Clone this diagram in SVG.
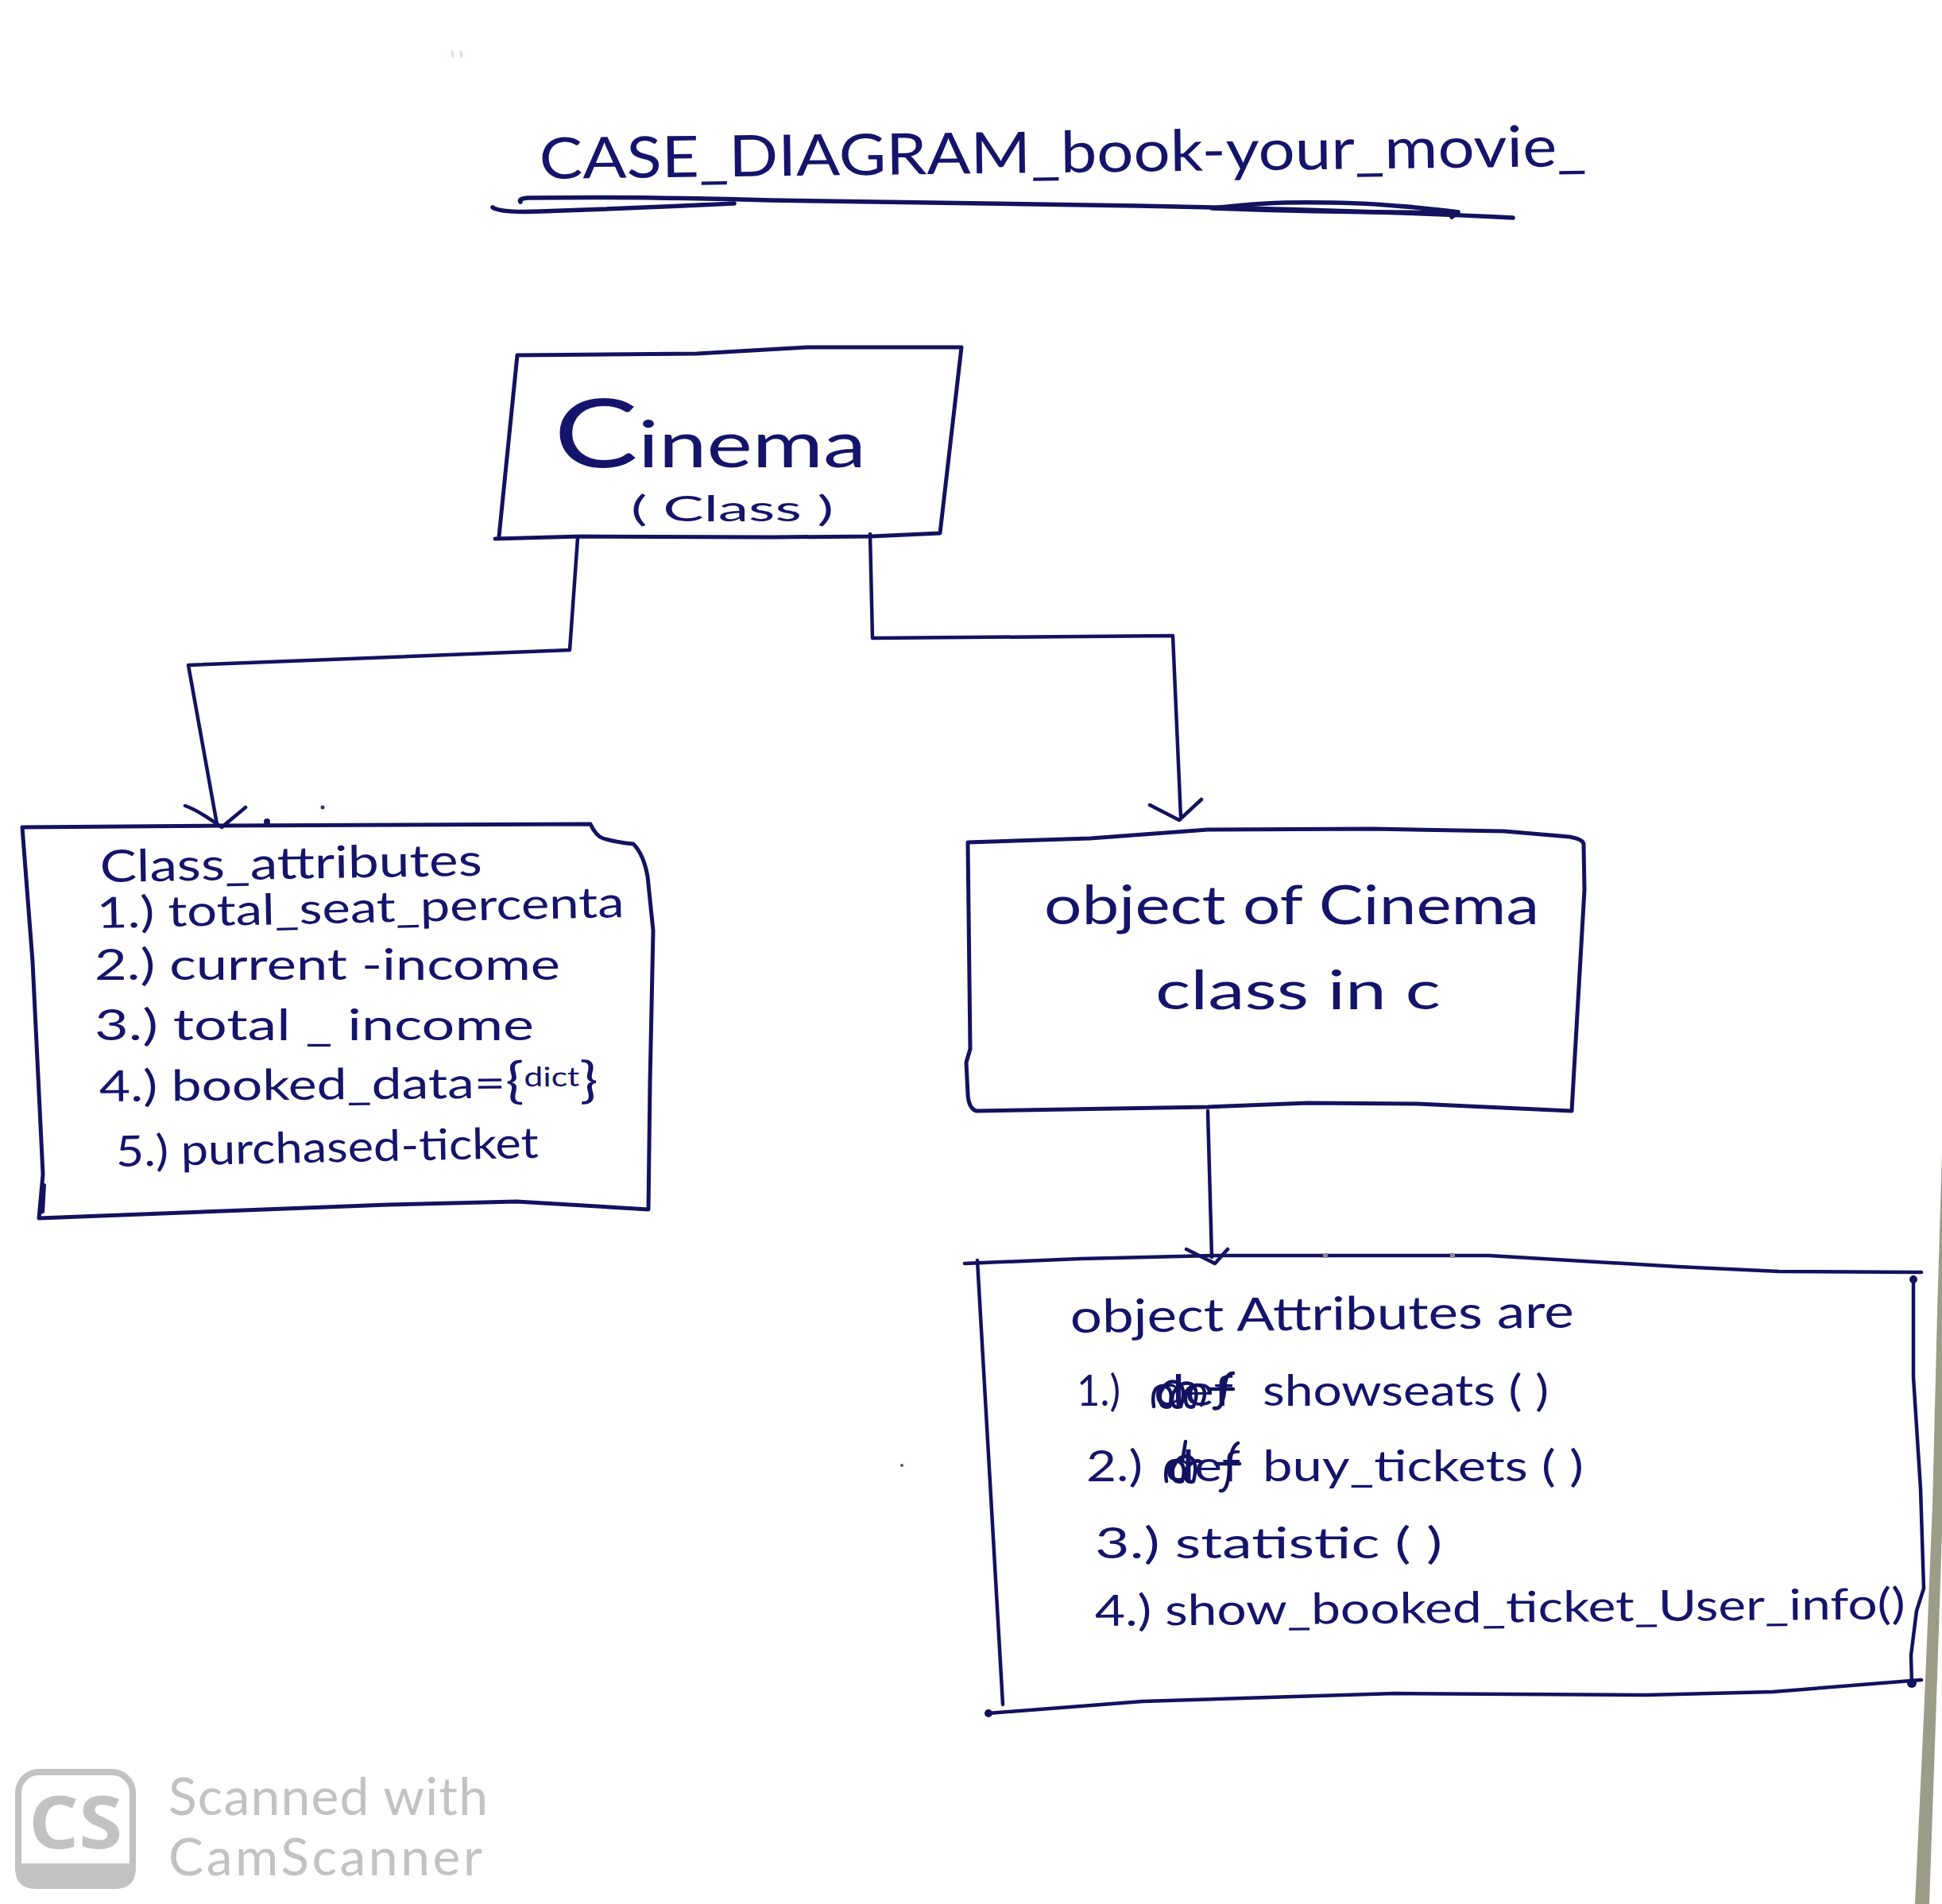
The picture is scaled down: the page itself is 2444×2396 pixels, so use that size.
<svg xmlns="http://www.w3.org/2000/svg" width="2444" height="2396" viewBox="0 0 2444 2396">
<style>
.p{fill:none;stroke:#12125f;stroke-width:4.5;stroke-linecap:round;stroke-linejoin:round}
.h{font-family:"Lato","Liberation Sans",sans-serif;fill:#14146b;font-size:54px}
.w{font-family:"Lato","Liberation Sans",sans-serif;fill:#c2c2c2;font-size:66px}
.d{fill:#12125f}
</style>
<rect width="2444" height="2396" fill="#ffffff"/>
<path d="M2444 1450L2438 1650L2432 1894L2422 2139L2410 2396L2428 2396L2437 2139L2444 1930Z" fill="#9c9d88"/>
<path d="M569 64l1 8M580 64l1 8" stroke="#e8d8dc" stroke-width="3" fill="none"/>
<g id="title">
<text class="h" x="679" y="225" style="font-size:72px" textLength="1318" lengthAdjust="spacingAndGlyphs" transform="rotate(-0.7 679 225)">CASE_DIAGRAM_book-your_movie_</text>
<path class="p" style="stroke-width:5.5" d="M655 254Q652 250 665 249Q800 247 970 252Q1200 256 1432 259Q1700 264 1904 274"/>
<path class="p" style="stroke-width:5.5" d="M620 261Q630 268 680 266Q800 262 924 256M1525 262Q1580 256 1617 255Q1700 254 1756 259Q1800 262 1835 267Q1680 268 1525 262M1835 267l-8 6"/>
</g>
<g id="cinema">
<path class="p" style="stroke-width:5" d="M651 447L877 445L1016 437L1210 437L1183 671L1095 675L970 676L730 675L623 678M628 675L651 447"/>
<text class="h" x="697" y="588" style="font-size:82px" textLength="393" lengthAdjust="spacingAndGlyphs"><tspan style="font-size:120px">C</tspan>inema</text>
<text class="h" x="794" y="656" style="font-size:44px" textLength="255" lengthAdjust="spacingAndGlyphs">( Class )</text>
</g>
<g id="connectors">
<path class="p" d="M727 677L717 818L237 837L273 1037"/>
<path class="p" d="M233 1014Q250 1020 279 1041L309 1016"/>
<path class="p" d="M1095 672L1098 803L1476 800L1486 1029"/>
<path class="p" d="M1447 1013L1484 1032L1512 1006"/>
<path class="p" d="M1520 1398L1525 1582"/>
<path class="p" d="M1493 1572L1529 1590L1545 1572"/>
</g>
<g id="class-attributes">
<path class="p" style="stroke-width:5" d="M28 1041L279 1039L743 1037Q750 1052 759 1055Q775 1060 797 1062Q810 1075 815 1103L822 1171L818 1363L816 1522L650 1512L488 1516L49 1533L54 1478L41 1210L28 1041"/>
<path class="d" d="M48 1530l5-42 5 2-2 36z"/>
<circle class="d" cx="336" cy="1034" r="4"/>
<circle cx="406" cy="1016" r="2.5" fill="#333366"/>
<text class="h" x="126" y="1110" style="font-size:56px" textLength="481" lengthAdjust="spacingAndGlyphs" transform="rotate(-1 126 1110)">Class_attributes</text>
<text class="h" x="122" y="1168" textLength="664" lengthAdjust="spacingAndGlyphs" transform="rotate(-1.2 122 1168)">1.) total_seat_percenta</text>
<text class="h" x="119" y="1233" textLength="586" lengthAdjust="spacingAndGlyphs">2.) current -income</text>
<text class="h" x="119" y="1309" textLength="553" lengthAdjust="spacingAndGlyphs">3.) total _ income</text>
<text class="h" x="125" y="1386" textLength="628" lengthAdjust="spacingAndGlyphs" transform="rotate(-0.5 125 1386)">4.) booked_data=<tspan style="font-size:62px">{</tspan><tspan dy="-14" style="font-size:34px">dict</tspan><tspan dy="14" style="font-size:62px">}</tspan></text>
<text class="h" x="146" y="1468" textLength="532" lengthAdjust="spacingAndGlyphs" transform="rotate(-1.2 146 1468)">5.) purchased-ticket</text>
</g>
<g id="object-of-cinema">
<path class="p" style="stroke-width:5" d="M1218 1060L1372 1055L1520 1044L1728 1043L1893 1046L1975 1053Q1992 1056 1993 1062L1994 1120L1978 1398L1783 1389L1646 1388L1520 1393L1229 1398Q1219 1395 1218 1377L1216 1337L1221 1320L1218 1060"/>
<text class="h" x="1314" y="1163" style="font-size:68px" textLength="623" lengthAdjust="spacingAndGlyphs">object of Cinema</text>
<text class="h" x="1454" y="1270" style="font-size:68px" textLength="359" lengthAdjust="spacingAndGlyphs">class in  c</text>
</g>
<g id="object-attributes">
<path class="p" d="M1214 1590L1359 1584L1529 1580L1874 1580L2112 1594L2239 1600L2418 1601"/>
<path class="p" d="M1230 1586L1262 2145"/>
<path class="p" d="M1244 2156L1438 2141L1755 2131L2072 2133L2231 2129L2418 2114"/>
<path class="p" d="M2408 1607L2408 1733L2417 1873L2421 1999L2412 2027L2405 2083L2406 2121"/>
<circle class="d" cx="1244" cy="2156" r="5"/>
<circle class="d" cx="2408" cy="1610" r="5"/>
<circle class="d" cx="2406" cy="2118" r="6"/>
<rect x="1665" y="1577" width="6" height="6" fill="#8a8a9a"/>
<rect x="1825" y="1577" width="6" height="6" fill="#8a8a9a"/>
<circle cx="1135" cy="1844" r="2" fill="#555577"/>
<text class="h" x="1347" y="1677" style="font-size:58px" textLength="634" lengthAdjust="spacingAndGlyphs" transform="rotate(-0.6 1347 1677)">object Attributes are</text>
<text class="h" x="1355" y="1769" textLength="55" lengthAdjust="spacingAndGlyphs">1.)</text>
<text class="h" x="1452" y="1769" textLength="100" lengthAdjust="spacingAndGlyphs">def</text>
<path class="p" d="M1452 1770q-4-26 12-26q14 2 8 26q-14 4-12-16q8-20 22-14q12 6 4 30q-14 4-10-16q10-18 24-12q10 8 2 28q-12 4-10-18q8-12 20-8q8 8 0 24M1528 1772q12 4 14-32q2-12 10-12M1522 1748h30"/>
<text class="h" x="1589" y="1769" textLength="360" lengthAdjust="spacingAndGlyphs">showseats ( )</text>
<text class="h" x="1367" y="1864" textLength="71" lengthAdjust="spacingAndGlyphs">2.)</text>
<text class="h" x="1466" y="1864" textLength="95" lengthAdjust="spacingAndGlyphs">def</text>
<path class="p" d="M1468 1864q-4-26 12-26q14 2 8 26q-14 4-12-16q8-20 22-14q10 6 4 30q-12 4-10-14q10-16 20-10M1488 1838l4-24M1536 1876q10 2 12-36q2-20 10-24M1530 1842h30"/>
<text class="h" x="1589" y="1864" textLength="404" lengthAdjust="spacingAndGlyphs">buy_tickets ( )</text>
<text class="h" x="1378" y="1961" textLength="437" lengthAdjust="spacingAndGlyphs">3.) statistic ( )</text>
<text class="h" x="1378" y="2046" textLength="1020" lengthAdjust="spacingAndGlyphs" transform="rotate(-0.5 1378 2046)">4.) show_booked_ticket_User_info()</text>
</g>
<g id="watermark">
<rect x="23" y="2230" width="144" height="142" rx="26" fill="#ffffff" stroke="#c2c2c2" stroke-width="8"/>
<path d="M19 2345H171V2350Q171 2377 145 2377H45Q19 2377 19 2350Z" fill="#c2c2c2"/>
<text x="95" y="2326" text-anchor="middle" textLength="118" lengthAdjust="spacingAndGlyphs" style="font-family:'Open Sans','Liberation Sans',sans-serif;font-weight:700;font-size:92px;fill:#c2c2c2">CS</text>
<text class="w" x="212" y="2284" textLength="402" lengthAdjust="spacing">Scanned  with</text>
<text class="w" x="212" y="2360" textLength="395" lengthAdjust="spacing">CamScanner</text>
</g>
</svg>
